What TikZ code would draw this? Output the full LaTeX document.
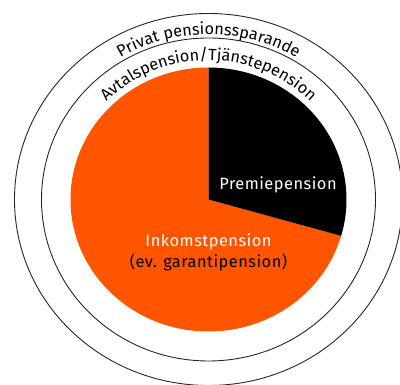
\documentclass[tikz,border=0pt]{standalone}
\usepackage{fontspec}
\setmainfont{Fira Sans}[LetterSpace=3]
\usetikzlibrary{decorations.text}
\definecolor{pensionorange}{RGB}{255,85,0}
\newcommand{\ringfont}{\fontsize{16.3}{16.3}\selectfont}

\begin{document}
\begin{tikzpicture}[x=1pt, y=1pt,
		ring/.style={draw=black!85, line width=0.9pt},
		label/.style={font=\fontsize{16.4}{16.4}\selectfont, inner sep=0pt},
		ringtext/.style={decorate, decoration={text along path, text align=center, text={|\ringfont|#1}}}]
		\useasboundingbox (0,0) rectangle (400,385);
		\coordinate (c) at (208.5,185.5);
		% rings
		\draw[ring] (c) ellipse [x radius=194, y radius=186];
		\draw[ring] (c) ellipse [x radius=167, y radius=161.5];
		% pie
		\fill[pensionorange] (c) -- ([shift={(c)}]90:138 and 132) arc[start angle=90, end angle=344, x radius=138, y radius=132] -- cycle;
		\fill[black] (c) -- ([shift={(c)}]-16:138 and 132) arc[start angle=-16, end angle=90, x radius=138, y radius=132] -- cycle;
		% labels
		\node[label, white] (premie) at (278,200) {Premiepension};
		\node[label, white] (inkomst) at (208.5,143) {Inkomstpension};
		\node[label] (garanti) at (208.5,123) {(ev. garantipension)};
		\path[ringtext={Privat pensionssparande}] ([shift={(c)}]170:171 and 165) arc[start angle=170, end angle=10, x radius=171, y radius=165];
		\path[ringtext={Avtalspension/Tjänstepension}] ([shift={(c)}]170:144 and 139) arc[start angle=170, end angle=10, x radius=144, y radius=139];
	\end{tikzpicture}
\end{document}
